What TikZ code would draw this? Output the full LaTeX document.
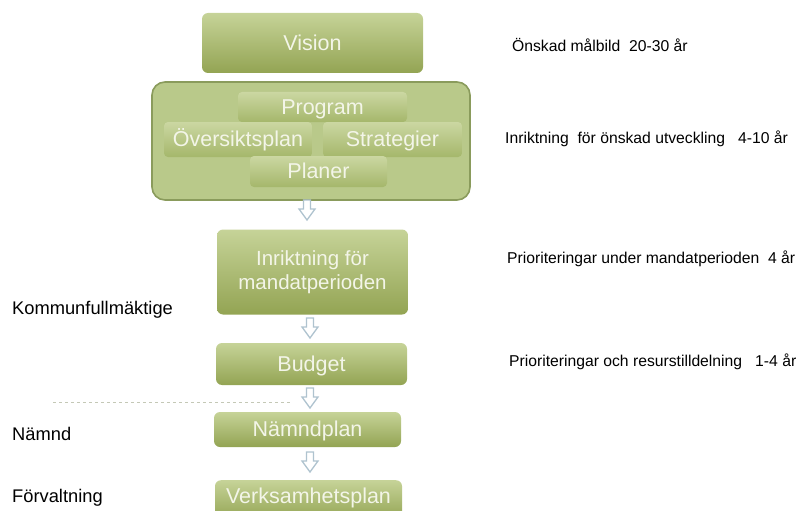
\documentclass[tikz,border=0pt]{standalone}
\usepackage{fontspec}
\setmainfont{Liberation Sans}
\definecolor{boxtop}{HTML}{C6D398}
\definecolor{boxbot}{HTML}{93A453}
\definecolor{intop}{HTML}{CBD7A2}
\definecolor{inbot}{HTML}{A5B76B}
\definecolor{contfill}{HTML}{B9C98A}
\definecolor{contline}{HTML}{8A9B5C}
\definecolor{boxtext}{HTML}{F3F5E8}
\definecolor{arrowline}{HTML}{AFC3CF}
\definecolor{dashcol}{HTML}{C4C8B6}
\tikzset{
  gbox/.style={rounded corners=6pt, top color=boxtop, bottom color=boxbot, draw=none,
    text=boxtext, font=\fontsize{21.5}{24}\selectfont, align=center, inner sep=0pt,
    text height=15.5pt, text depth=1pt},
  ibox/.style={rounded corners=4pt, top color=intop, bottom color=inbot, draw=none,
    text=boxtext, font=\fontsize{21.5}{24}\selectfont, inner sep=0pt,
    text height=15.5pt, text depth=1.5pt},
  cont/.style={rounded corners=13pt, fill=contfill, draw=contline, line width=1.6pt, inner sep=0pt},
  darr/.style={draw=arrowline, fill=white, line width=1.3pt, line join=miter},
  rtext/.style={anchor=west, font=\fontsize{15.7}{18}\selectfont, inner sep=0pt},
  ltext/.style={anchor=west, font=\fontsize{18.3}{20}\selectfont, inner sep=0pt},
}
\newcommand{\hollowdown}[1]{%
  \draw[darr] (#1) +(-3.5,-10) -- +(3.5,-10) -- +(3.5,-1) -- +(8,-1) -- +(0,10) -- +(-8,-1) -- +(-3.5,-1) -- cycle;}
\begin{document}
\begin{tikzpicture}[x=1pt,y=-1pt]
\useasboundingbox (0,0) rectangle (801,511);
\clip (0,0) rectangle (801,511);
\node[gbox, minimum width=221pt, minimum height=60pt] (vision) at (312.5,43) {Vision};
\node[cont, minimum width=318pt, minimum height=118pt] (cont) at (311,141) {};
\node[ibox, minimum width=169pt, minimum height=30pt] (program) at (322.5,107) {Program};
\node[ibox, minimum width=148pt, minimum height=35pt] (oversikt) at (238,139.5) {Översiktsplan};
\node[ibox, minimum width=139pt, minimum height=35pt] (strat) at (392.5,139.5) {Strategier};
\node[ibox, minimum width=137pt, minimum height=31pt] (planer) at (318.5,171.5) {Planer};
\node[gbox, minimum width=191pt, minimum height=85pt, font=\fontsize{20.5}{24}\selectfont, text height=, text depth=] (inrikt) at (312.5,272) {Inriktning  för\\mandatperioden};
\node[gbox, minimum width=191pt, minimum height=42pt] (budget) at (311.5,364) {Budget};
\node[gbox, minimum width=187pt, minimum height=35pt] (namnd) at (307.5,429.5) {Nämndplan};
\node[gbox, minimum width=187pt, minimum height=40pt, anchor=north] (verks) at (308.5,480) {};
\node[text=boxtext, font=\fontsize{21.5}{24}\selectfont, inner sep=0pt] (verkstext) at (308.5,498) {Verksamhetsplan};

\coordinate (a1) at (307,210);
\coordinate (a2) at (310,328);
\coordinate (a3) at (310,398);
\coordinate (a4) at (310,462);
\hollowdown{a1}
\hollowdown{a2}
\hollowdown{a3}
\hollowdown{a4}

\draw[dashcol, dashed, line width=1pt] (53,402) -- (290,402);

\node[rtext] (t1) at (512,45) {Önskad målbild \ 20-30 år};
\node[rtext] (t2) at (505,139) {Inriktning \ för önskad utveckling \ \ 4-10 år};
\node[rtext] (t3) at (507,259) {Prioriteringar under mandatperioden \ 4 år};
\node[rtext] (t4) at (509,362) {Prioriteringar och resurstilldelning \ \ 1-4 år};

\node[ltext] (l1) at (12,310) {Kommunfullmäktige};
\node[ltext] (l2) at (12,434) {Nämnd};
\node[ltext] (l3) at (12,498) {Förvaltning};
\end{tikzpicture}
\end{document}
